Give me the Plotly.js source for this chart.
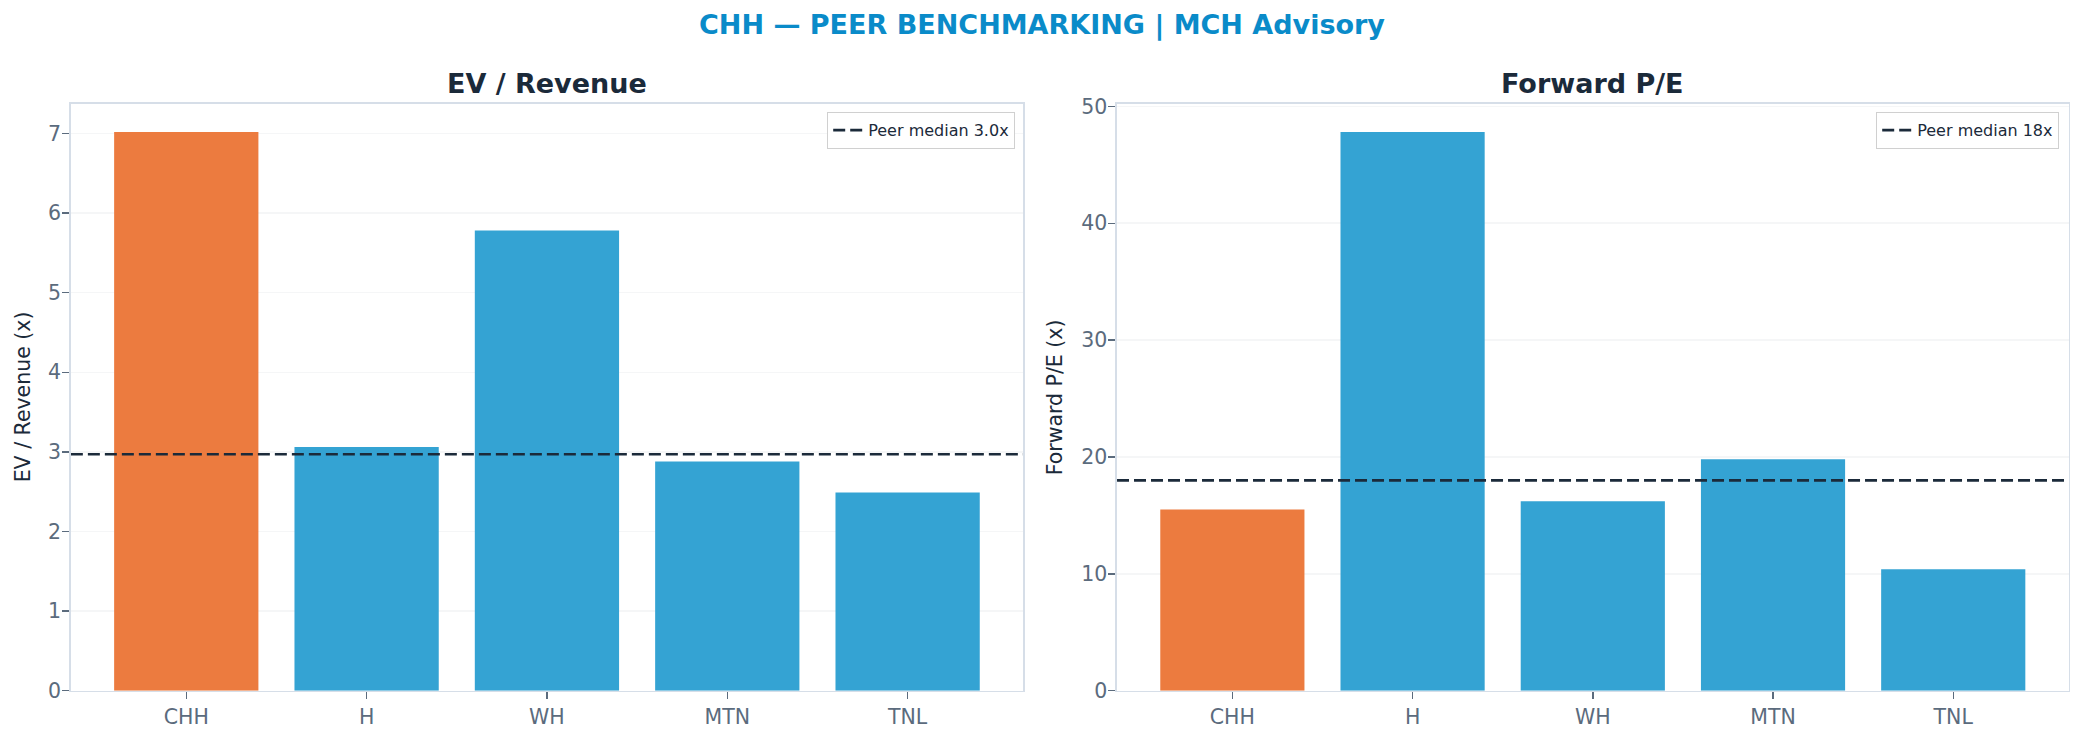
<!DOCTYPE html>
<html>
<head>
<meta charset="utf-8">
<script src="https://cdn.plot.ly/plotly-3.0.1.min.js"></script>
<style>
  html, body { margin: 0; padding: 0; background: #ffffff; }
  #chart { width: 2084px; height: 741px; }
</style>
</head>
<body>
<div id="chart"></div>
<script>
// ---- data ----
const categories = ['CHH', 'H', 'WH', 'MTN', 'TNL'];
const evRevenue = [7.02, 3.06, 5.78, 2.88, 2.49];
const forwardPE = [15.5, 47.8, 16.2, 19.8, 10.4];
const evMedian = 2.97;
const peMedian = 18.0;
const evMedianLabel = 'Peer median 3.0x';
const peMedianLabel = 'Peer median 18x';
const highlightTicker = 'CHH';
const mainTitle = 'CHH \u2014 PEER BENCHMARKING | MCH Advisory';
const panelTitles = ['EV / Revenue', 'Forward P/E'];
const axisTitles = ['EV / Revenue (x)', 'Forward P/E (x)'];

// ---- styles ----
const ORANGE = '#EC7B3F';
const BLUE = '#34A3D3';
const NAVY = '#1B2A3A';
const TICK = '#5B6B7D';
const SPINE = '#D6DEE8';
const GRID = 'rgba(232,235,238,0.45)';
const FONT = 'DejaVu Sans, Verdana, sans-serif';

const barColors = categories.map(c => c === highlightTicker ? ORANGE : BLUE);

const dom1 = [0.0340, 0.4909];
const dom2 = [0.5360, 0.9926];
const domY = [0.0679, 0.8596];

const traces = [
  { type: 'bar', x: categories, y: evRevenue, marker: { color: barColors, line: { width: 0 } },
    xaxis: 'x', yaxis: 'y', showlegend: false, hoverinfo: 'x+y' },
  { type: 'bar', x: categories, y: forwardPE, marker: { color: barColors, line: { width: 0 } },
    xaxis: 'x2', yaxis: 'y2', showlegend: false, hoverinfo: 'x+y' },
  { type: 'scatter', mode: 'lines', x: [0, 1], y: [evMedian, evMedian], name: evMedianLabel,
    xaxis: 'x3', yaxis: 'y', legend: 'legend',
    line: { color: NAVY, width: 2.6, dash: '12px,5px' } },
  { type: 'scatter', mode: 'lines', x: [0, 1], y: [peMedian, peMedian], name: peMedianLabel,
    xaxis: 'x4', yaxis: 'y2', legend: 'legend2',
    line: { color: NAVY, width: 2.6, dash: '12px,5px' } }
];

function xAxis(domain, anchor) {
  return {
    domain: domain, anchor: anchor, type: 'category',
    range: [-0.64, categories.length - 1 + 0.64],
    showline: true, linecolor: SPINE, linewidth: 1.6, mirror: true,
    ticks: 'outside', ticklen: 7, tickwidth: 1.4, tickcolor: TICK,
    showgrid: false, zeroline: false,
    tickfont: { family: FONT, size: 20.5, color: TICK },
    layer: 'above traces', fixedrange: true
  };
}
function yAxis(domain, anchor, range, dtick) {
  return {
    domain: domain, anchor: anchor, range: range, dtick: dtick, tick0: 0,
    showline: true, linecolor: SPINE, linewidth: 1.6, mirror: true,
    ticks: 'outside', ticklen: 7, tickwidth: 1.4, tickcolor: TICK,
    showgrid: true, gridcolor: GRID, gridwidth: 1.5, zeroline: false,
    tickfont: { family: FONT, size: 20.5, color: TICK },
    ticklabelstandoff: -3,
    layer: 'above traces', fixedrange: true
  };
}

const layout = {
  width: 2084, height: 741,
  margin: { l: 0, r: 0, t: 0, b: 0 },
  paper_bgcolor: '#ffffff', plot_bgcolor: '#ffffff',
  showlegend: true,
  bargap: 0.2,
  title: { text: '<b>' + mainTitle + '</b>', x: 0.5, xanchor: 'center', y: 1 - 25 / 741, yanchor: 'middle',
           font: { family: FONT, size: 27, color: '#0A8BC9' } },
  xaxis: xAxis(dom1, 'y'),
  xaxis2: xAxis(dom2, 'y2'),
  xaxis3: { overlaying: 'x', anchor: 'y', range: [0, 1], visible: false, fixedrange: true },
  xaxis4: { overlaying: 'x2', anchor: 'y2', range: [0, 1], visible: false, fixedrange: true },
  yaxis: yAxis(domY, 'x', [0, 7.37], 1),
  yaxis2: yAxis(domY, 'x2', [0, 50.2], 10),
  legend: { x: 1015 / 2084, xanchor: 'right', y: 1 - 112 / 741, yanchor: 'top',
            bgcolor: '#ffffff', bordercolor: '#D0D0D0', borderwidth: 1.2,
            font: { family: FONT, size: 16, color: NAVY }, itemwidth: 30 },
  legend2: { x: 2059 / 2084, xanchor: 'right', y: 1 - 112 / 741, yanchor: 'top',
             bgcolor: '#ffffff', bordercolor: '#D0D0D0', borderwidth: 1.2,
             font: { family: FONT, size: 16, color: NAVY }, itemwidth: 30 },
  annotations: [
    { text: '<b>' + panelTitles[0] + '</b>', xref: 'paper', yref: 'paper',
      x: (dom1[0] + dom1[1]) / 2, y: 1 - 84 / 741, xanchor: 'center', yanchor: 'middle',
      showarrow: false, font: { family: FONT, size: 27, color: NAVY } },
    { text: '<b>' + panelTitles[1] + '</b>', xref: 'paper', yref: 'paper',
      x: (dom2[0] + dom2[1]) / 2, y: 1 - 84 / 741, xanchor: 'center', yanchor: 'middle',
      showarrow: false, font: { family: FONT, size: 27, color: NAVY } },
    { text: axisTitles[0], xref: 'paper', yref: 'paper', textangle: -90,
      x: 23 / 2084, y: (domY[0] + domY[1]) / 2, xanchor: 'center', yanchor: 'middle',
      showarrow: false, font: { family: FONT, size: 20.5, color: NAVY } },
    { text: axisTitles[1], xref: 'paper', yref: 'paper', textangle: -90,
      x: 1055 / 2084, y: (domY[0] + domY[1]) / 2, xanchor: 'center', yanchor: 'middle',
      showarrow: false, font: { family: FONT, size: 20.5, color: NAVY } }
  ]
};

Plotly.newPlot('chart', traces, layout, { displayModeBar: false, staticPlot: true });
</script>
</body>
</html>
